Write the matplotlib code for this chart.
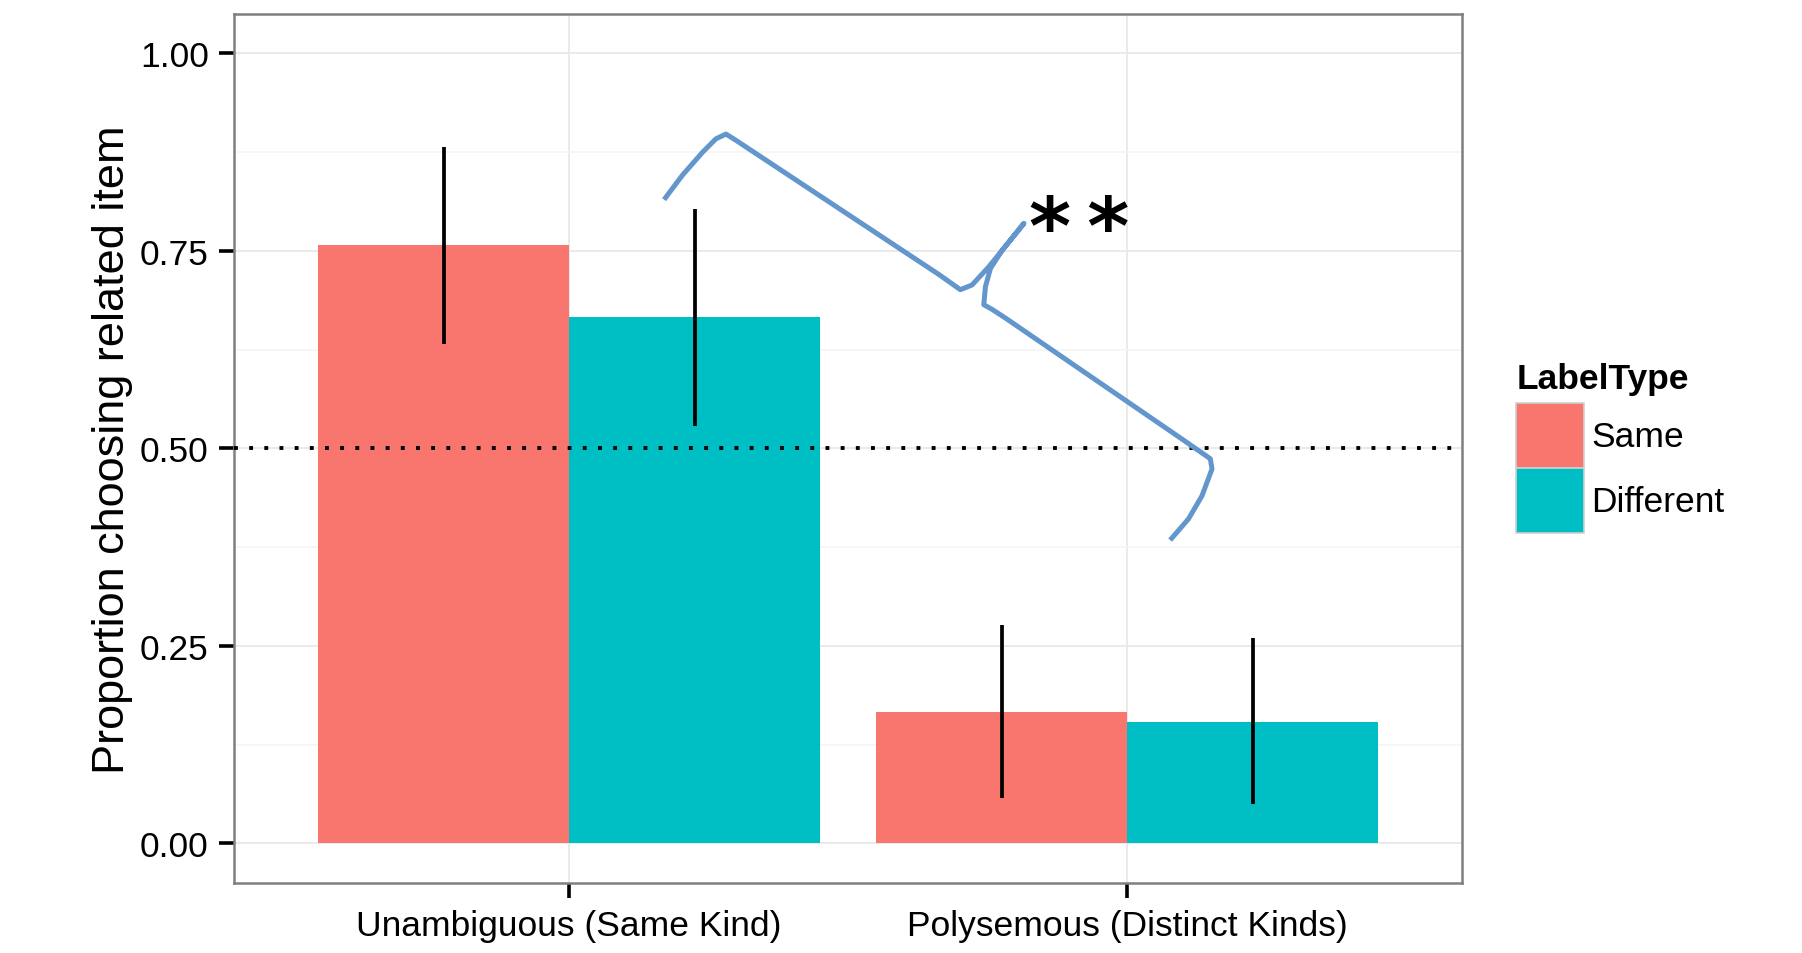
import matplotlib
matplotlib.use("Agg")
import matplotlib.pyplot as plt
from matplotlib.patches import Patch
import numpy as np

plt.rcParams["font.family"] = ["Liberation Sans", "DejaVu Sans"]

# data
groups = ["Unambiguous (Same Kind)", "Polysemous (Distinct Kinds)"]
label_types = ["Same", "Different"]
colors = ["#F8766D", "#00BFC4"]
prop_same = [0.757, 0.167]
prop_diff = [0.666, 0.154]
ci_low_same = [0.632, 0.058]
ci_high_same = [0.881, 0.276]
ci_low_diff = [0.529, 0.050]
ci_high_diff = [0.803, 0.260]
chance = 0.5

# hand-drawn brace annotation (category units, proportion)
brace_x = [1.170, 1.203, 1.239, 1.263, 1.281, 1.299, 1.663, 1.701, 1.722,
           1.752, 1.782, 1.815, 1.776, 1.755, 1.746, 1.743, 1.758, 1.782,
           2.098, 2.149, 2.152, 2.134, 2.110, 2.077]
brace_y = [0.815, 0.846, 0.875, 0.892, 0.898, 0.890, 0.720, 0.701, 0.707,
           0.730, 0.756, 0.785, 0.751, 0.728, 0.705, 0.682, 0.676, 0.665,
           0.512, 0.487, 0.474, 0.440, 0.411, 0.384]
sig_label = "*\u2009*"
sig_x, sig_y = 1.914, 0.775

fig = plt.figure(figsize=(18.02, 9.54), dpi=100)
ax = fig.add_axes([0.1301, 0.0734, 0.6812, 0.9109])

x = np.arange(1, len(groups) + 1)
w = 0.45
series = [(prop_same, ci_low_same, ci_high_same), (prop_diff, ci_low_diff, ci_high_diff)]
for i, (vals, lo, hi) in enumerate(series):
    xs = x + (i - 0.5) * w
    ax.bar(xs, vals, width=w, color=colors[i], zorder=2, linewidth=0)
    ax.vlines(xs, lo, hi, color="black", lw=2.7, zorder=3)

ax.axhline(chance, color="black", lw=2.8, linestyle=(0, (1, 2.9)),
           dash_capstyle="butt", zorder=4)
ax.plot(brace_x, brace_y, color="#6396CC", lw=3.6, solid_joinstyle="round",
        solid_capstyle="butt", zorder=5)
ax.text(sig_x, sig_y, sig_label, fontsize=58, fontweight="bold", ha="center",
        va="center", family="DejaVu Sans", zorder=6)

ax.set_xlim(0.4, 2.6)
ax.set_ylim(-0.05, 1.05)
ax.set_xticks(x)
ax.set_xticklabels(groups)
ax.set_yticks([0, 0.25, 0.5, 0.75, 1.0])
ax.set_yticklabels(["0.00", "0.25", "0.50", "0.75", "1.00"])
ax.set_yticks([0.125, 0.375, 0.625, 0.875], minor=True)
ax.tick_params(axis="both", which="major", labelsize=25.5, length=10.5, width=2.6,
               color="black", labelcolor="black")
ax.tick_params(axis="x", pad=8.5)
ax.tick_params(axis="y", pad=8)
ax.tick_params(which="minor", length=0)
ax.grid(which="major", color="#E8E8E8", lw=1.3, zorder=0)
ax.grid(which="minor", axis="y", color="#F4F4F4", lw=1.1, zorder=0)
ax.set_axisbelow(True)
for s in ax.spines.values():
    s.set_color("#7F7F7F")
    s.set_linewidth(1.8)

ax.set_ylabel("Proportion choosing related item", fontsize=32.5)
ax.yaxis.set_label_coords(-0.099, 0.5)
ax.yaxis.label.set_verticalalignment("center")

handles = [Patch(facecolor=c, edgecolor="#D0D0D0", linewidth=1.2) for c in colors]
leg = fig.legend(handles, label_types, title="LabelType", loc="center left",
                 bbox_to_anchor=(0.8415, 0.530), frameon=False, fontsize=25.5,
                 title_fontproperties={"weight": "bold", "size": 25.5},
                 handlelength=1.9, handleheight=2.45, labelspacing=0.0,
                 handletextpad=0.22, borderpad=0, borderaxespad=0)
leg._legend_box.align = "left"
leg._legend_box.sep = 6

fig.savefig("out.png", dpi=100)
